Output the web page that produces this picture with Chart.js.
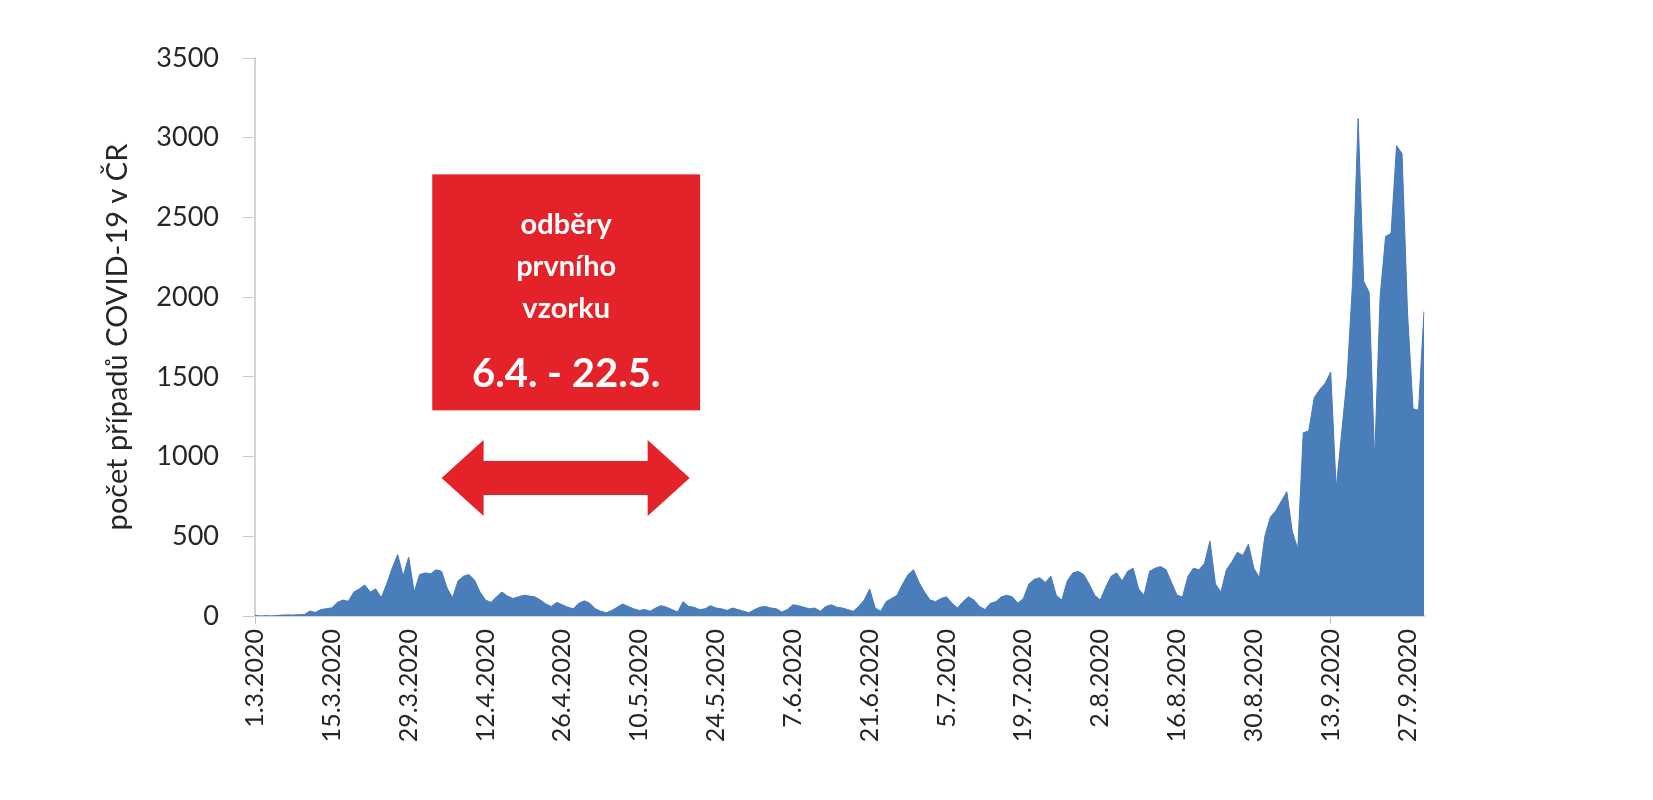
<!DOCTYPE html>
<html lang="cs">
<head>
<meta charset="utf-8">
<title>Počet případů COVID-19 v ČR</title>
<script src="https://cdn.jsdelivr.net/npm/chart.js@4.4.1/dist/chart.umd.min.js"></script>
<style>
  html, body { margin: 0; padding: 0; background: #fff; }
  #wrap { width: 1653px; height: 800px; }
</style>
</head>
<body>
<div id="wrap"><canvas id="chart" width="1653" height="800"></canvas></div>
<script>
// denni pocty novych pripadu po mesicich
const march = [3, 0, 2, 0, 3, 6, 7, 6, 8, 9, 31, 22, 40, 46, 51, 85, 100, 92, 150, 170,
  195, 150, 170, 115, 200, 300, 385, 250, 370, 150, 260];
const april = [270, 265, 290, 280, 175, 115, 220, 250, 260, 225, 150, 100, 85, 120, 150,
  125, 110, 120, 130, 125, 120, 100, 75, 60, 85, 70, 55, 45, 80, 95];
const may = [80, 45, 30, 20, 35, 55, 75, 60, 45, 35, 40, 30, 50, 65, 55, 40, 25, 90, 60, 55,
  40, 45, 65, 50, 45, 35, 50, 40, 30, 20, 40];
const june = [55, 60, 50, 45, 25, 40, 70, 65, 55, 45, 50, 30, 60, 70, 55, 50, 40, 30, 60, 100,
  170, 50, 30, 90, 110, 130, 200, 260, 290, 210];
const july = [150, 100, 90, 110, 120, 80, 50, 90, 120, 100, 60, 40, 80, 90, 120, 130, 120, 80,
  110, 200, 230, 240, 210, 250, 130, 100, 220, 270, 280, 260, 200];
const august = [130, 100, 180, 250, 270, 220, 280, 300, 170, 130, 280, 300, 310, 290, 210, 130,
  120, 250, 300, 290, 330, 470, 200, 150, 290, 340, 400, 380, 450, 300, 240];
const september = [500, 620, 660, 720, 780, 530, 420, 1150, 1160, 1370, 1420, 1460, 1530, 800,
  1150, 1500, 2100, 3120, 2100, 2030, 980, 2000, 2380, 2400, 2950, 2900, 1900, 1300, 1290, 1910];

const dailyCases = [].concat(march, april, may, june, july, august, september);

// osa x: kazdy den od 1.3.2020, popisek jen kazdy 14. den
const dayLabels = [];
for (let d = new Date(2020, 2, 1); dayLabels.length < dailyCases.length; d.setDate(d.getDate() + 1)) {
  dayLabels.push(`${d.getDate()}.${d.getMonth() + 1}.${d.getFullYear()}`);
}
const labelEvery = 14;
const yTicks = [0, 500, 1000, 1500, 2000, 2500, 3000, 3500];

// poznamka o odberech
const noteLines = ['odběry', 'prvního', 'vzorku'];
const noteDates = '6.4. - 22.5.';

const axisGray = '#d4d4d4';
const textColor = '#262626';
const red = '#e3222a';

const samplingNote = {
  id: 'samplingNote',
  afterDatasetsDraw(chart) {
    const { ctx, scales: { x, y } } = chart;
    ctx.save();

    // cerveny ramecek
    const bx1 = x.getPixelForValue(32.3), bx2 = x.getPixelForValue(81.1);
    const by1 = y.getPixelForValue(2770), by2 = y.getPixelForValue(1290);
    ctx.fillStyle = red;
    ctx.fillRect(bx1, by1, bx2 - bx1, by2 - by1);

    const cx = (bx1 + bx2) / 2;
    ctx.fillStyle = '#fff';
    ctx.textAlign = 'center';
    ctx.textBaseline = 'middle';
    ctx.font = 'bold 29px Lato';
    noteLines.forEach((t, i) => ctx.fillText(t, cx, by1 + 50 + i * 42));
    ctx.font = 'bold 40px Lato';
    ctx.fillText(noteDates, cx, by1 + 200);

    // obousmerna sipka
    const l = x.getPixelForValue(34), r = x.getPixelForValue(79.2);
    const cy = y.getPixelForValue(866);
    const hh = y.getPixelForValue(0) - y.getPixelForValue(238);
    const sh = y.getPixelForValue(0) - y.getPixelForValue(107);
    const head = 42;
    ctx.fillStyle = red;
    ctx.beginPath();
    ctx.moveTo(l, cy);
    ctx.lineTo(l + head, cy - hh);
    ctx.lineTo(l + head, cy - sh);
    ctx.lineTo(r - head, cy - sh);
    ctx.lineTo(r - head, cy - hh);
    ctx.lineTo(r, cy);
    ctx.lineTo(r - head, cy + hh);
    ctx.lineTo(r - head, cy + sh);
    ctx.lineTo(l + head, cy + sh);
    ctx.lineTo(l + head, cy + hh);
    ctx.closePath();
    ctx.fill();
    ctx.restore();
  }
};

Chart.defaults.font.family = 'Lato';
Chart.defaults.color = textColor;

new Chart(document.getElementById('chart'), {
  type: 'line',
  data: {
    labels: dayLabels,
    datasets: [{
      data: dailyCases,
      fill: 'origin',
      backgroundColor: '#4a7ebb',
      borderColor: '#4679b8',
      borderWidth: 1,
      pointRadius: 0,
      tension: 0
    }]
  },
  options: {
    responsive: false,
    animation: false,
    devicePixelRatio: 1,
    layout: { padding: { left: 0, right: 229, top: 58, bottom: 0 } },
    plugins: { legend: { display: false }, tooltip: { enabled: false } },
    scales: {
      x: {
        offset: false,
        afterFit: s => { s.height = 184; },
        border: { color: axisGray, width: 2 },
        grid: {
          drawOnChartArea: false,
          tickLength: 8,
          tickColor: c => (c.index % labelEvery === 0 ? '#bdbdbd' : 'rgba(0,0,0,0)')
        },
        ticks: {
          autoSkip: false,
          minRotation: 90,
          maxRotation: 90,
          padding: 5,
          font: { size: 25 },
          callback: (v, i) => (i % labelEvery === 0 ? dayLabels[i] : null)
        }
      },
      y: {
        min: yTicks[0],
        max: yTicks[yTicks.length - 1],
        afterFit: s => { s.width = 255; },
        afterBuildTicks: s => { s.ticks = yTicks.map(v => ({ value: v })); },
        border: { color: axisGray, width: 2 },
        grid: { drawOnChartArea: false, tickLength: 12, color: '#c8c8c8' },
        ticks: {
          padding: 24,
          font: { size: 27 },
          callback: v => String(v)
        },
        title: {
          display: true,
          text: 'počet případů COVID-19 v ČR',
          font: { size: 29 },
          padding: { top: 100, bottom: 0 }
        }
      }
    }
  },
  plugins: [samplingNote]
});
</script>
</body>
</html>
